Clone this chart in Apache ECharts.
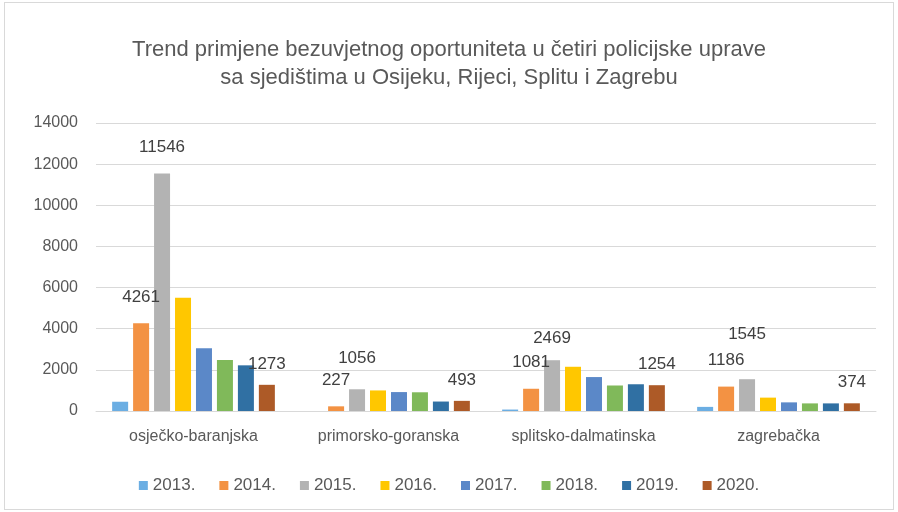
<!DOCTYPE html>
<html>
<head>
<meta charset="utf-8">
<script src="https://cdn.jsdelivr.net/npm/echarts@6/dist/echarts.min.js"></script>
<style>
  html, body { margin: 0; padding: 0; background: #fff; }
  #chart { position: absolute; left: 4px; top: 2px; width: 888px; height: 506px; border: 1px solid #d9d9d9; }
</style>
</head>
<body>
<div id="chart"></div>
<script>
const categories = ["osječko-baranjska", "primorsko-goranska", "splitsko-dalmatinska", "zagrebačka"];
const years = ["2013.", "2014.", "2015.", "2016.", "2017.", "2018.", "2019.", "2020."];

// one array per year, values per category
const v2013 = [450, 0, 70, 200];
const v2014 = [4261, 227, 1081, 1186];
const v2015 = [11546, 1056, 2469, 1545];
const v2016 = [5500, 1000, 2150, 650];
const v2017 = [3050, 920, 1650, 420];
const v2018 = [2480, 910, 1240, 370];
const v2019 = [2220, 460, 1300, 370];
const v2020 = [1273, 493, 1254, 374];

const yearValues = [v2013, v2014, v2015, v2016, v2017, v2018, v2019, v2020];
const labelled = ["2014.", "2015.", "2020."];
const colors = ["#6baee3", "#f39243", "#b3b3b3", "#ffc700", "#5b88c8", "#80b95a", "#3070a3", "#ad5a27"];

const chart = echarts.init(document.getElementById("chart"));
const font = "'Liberation Sans', 'Open Sans', sans-serif";

// excel pushed a couple of labels higher; mimic that
const labelDistance = (year, idx) => {
  if (year === "2015." && idx === 3) return 36;
  if (year === "2015." && idx === 1) return 22;
  if (year === "2020.") return 12;
  if (year === "2015." && idx === 2) return 13;
  return 18;
};

chart.setOption({
  animation: false,
  textStyle: { fontFamily: font },
  title: {
    text: "Trend primjene bezuvjetnog oportuniteta u četiri policijske uprave\nsa sjedištima u Osijeku, Rijeci, Splitu i Zagrebu",
    left: "center",
    top: 28,
    textStyle: { fontSize: 22, fontWeight: "normal", color: "#595959", lineHeight: 28, fontFamily: font }
  },
  legend: {
    bottom: 10,
    left: "center",
    itemWidth: 9,
    itemHeight: 9,
    itemGap: 24,
    icon: "rect",
    textStyle: { fontSize: 17, color: "#595959" },
    data: years
  },
  grid: { left: 91, right: 17, top: 120, bottom: 98 },
  xAxis: {
    type: "category",
    data: categories,
    axisTick: { show: false },
    axisLine: { lineStyle: { color: "#d9d9d9" } },
    axisLabel: { fontSize: 16, color: "#595959", margin: 18 }
  },
  yAxis: {
    type: "value",
    min: 0,
    max: 14000,
    interval: 2000,
    axisLabel: { fontSize: 16, color: "#595959", margin: 18, formatter: (v) => String(v) },
    splitLine: { lineStyle: { color: "#d9d9d9" } }
  },
  series: years.map((y, i) => ({
    name: y,
    type: "bar",
    data: yearValues[i].map((v, k) => ({
      value: v,
      label: { distance: labelDistance(y, k) }
    })),
    barWidth: 16,
    barGap: "31%",
    itemStyle: { color: colors[i] },
    label: {
      show: labelled.includes(y),
      position: "top",
      fontSize: 17,
      color: "#404040"
    }
  }))
});
</script>
</body>
</html>
